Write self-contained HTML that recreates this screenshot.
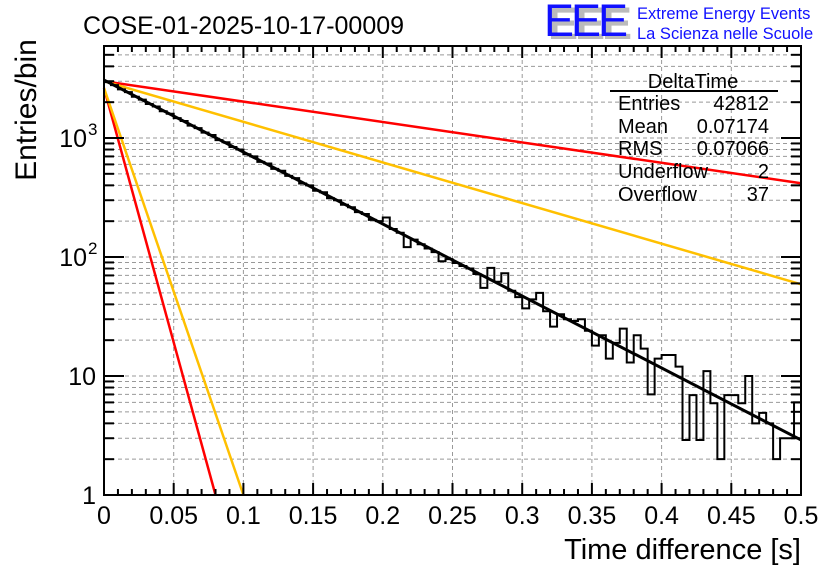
<!DOCTYPE html>
<html><head><meta charset="utf-8"><style>
body{margin:0;background:#fff;}
svg{display:block;font-family:"Liberation Sans",sans-serif;}
</style></head><body>
<svg id="chart" width="836" height="572" viewBox="0 0 836 572" xmlns="http://www.w3.org/2000/svg">
<rect x="0" y="0" width="836" height="572" fill="#fff"/>
<g id="grid"></g>
<g id="curves"></g>
<g id="hist"></g>
<g id="axes"></g>
<text x="83" y="34" font-size="25">COSE-01-2025-10-17-00009</text>
<g>
<text x="548" y="39" font-size="45" fill="#bbb" font-weight="bold" letter-spacing="-3">EEE</text>
<text x="544" y="36" font-size="45" fill="#1010ff" letter-spacing="-3">EEE</text>
<text x="637" y="19" font-size="16.5" fill="#1010ff">Extreme Energy Events</text>
<text x="637" y="39" font-size="16.5" fill="#1010ff">La Scienza nelle Scuole</text>
</g>
<g font-size="20">
<text x="693" y="88" text-anchor="middle">DeltaTime</text>
<line x1="610" y1="91" x2="778" y2="91" stroke="#000" stroke-width="2"/>
<text x="618" y="110">Entries</text><text x="769" y="110" text-anchor="end">42812</text>
<text x="618" y="133">Mean</text><text x="769" y="133" text-anchor="end">0.07174</text>
<text x="618" y="155">RMS</text><text x="769" y="155" text-anchor="end">0.07066</text>
<text x="618" y="178">Underflow</text><text x="769" y="178" text-anchor="end">2</text>
<text x="618" y="201">Overflow</text><text x="769" y="201" text-anchor="end">37</text>
</g>
<text transform="translate(36,110) rotate(-90)" text-anchor="middle" font-size="30">Entries/bin</text>
<text x="801" y="559" text-anchor="end" font-size="29">Time difference [s]</text>
</svg>
<script>
const counts=[2950,2780,2560,2430,2220,2100,1930,1840,1680,1600,1470,1390,1270,1210,1110,1060,960,920,840,800,730,700,630,610,550,530,480,460,415,400,360,350,312,300,275,262,238,230,205,200,215,172,160,121,140,128,118,110,92,96,89,84,80,72,55,81,62,73,52,46,37,44,50,35,26,33,30,29,30,24,18,22,14,19,25,13,22,17,7,14,15,15,12,2.9,6.9,2.9,11,5.9,2,6.9,6.9,5.9,10,4,4.9,4,2,3,3,6];
const xTicks=[0,0.05,0.1,0.15,0.2,0.25,0.3,0.35,0.4,0.45,0.5];
const xTickLabels=["0","0.05","0.1","0.15","0.2","0.25","0.3","0.35","0.4","0.45","0.5"];
const fitStart=[3070], fitEnd=[2.9];
const red1=[3000,417], yel1=[3000,59];
const red2=[2630,1,0.08], yel2=[2630,1,0.1];
const X0=104,X1=801,Y1=495,YT=46,DEC=119;
const sx=v=>X0+(v/0.5)*(X1-X0);
const sy=v=>Y1-Math.log10(v)*DEC;
const NS="http://www.w3.org/2000/svg";
function mk(p,tag,a){const e=document.createElementNS(NS,tag);for(const k in a)e.setAttribute(k,a[k]);p.appendChild(e);return e;}
const grid=document.getElementById('grid'),axes=document.getElementById('axes'),hist=document.getElementById('hist'),cv=document.getElementById('curves');
for(let i=1;i<xTicks.length-1;i++){const l=mk(grid,'line',{x1:sx(xTicks[i]),x2:sx(xTicks[i]),y1:YT,y2:Y1,stroke:'#999','stroke-dasharray':'4,3','stroke-width':1});
}
for(let d=0;d<4;d++)for(let m=1;m<=9;m++){const v=m*Math.pow(10,d);const y=sy(v);if(y<YT+1||y>Y1-1)continue;
const l=mk(grid,'line',{x1:X0,x2:X1,y1:y,y2:y,stroke:'#999','stroke-dasharray':'4,3','stroke-width':1});

const lenL=m===1?20:10;
const t1=mk(axes,'line',{x1:X0,x2:X0+lenL,y1:y,y2:y,stroke:'#000','stroke-width':2});

const t2=mk(axes,'line',{x1:X1,x2:X1-lenL,y1:y,y2:y,stroke:'#000','stroke-width':2});
}
for(let i=0;i<=50;i++){const x=sx(i*0.01);const len=(i%5===0)?12:6;
const t=mk(axes,'line',{x1:x,x2:x,y1:Y1,y2:Y1-len,stroke:'#000','stroke-width':2});

const t2=mk(axes,'line',{x1:x,x2:x,y1:YT,y2:YT+len,stroke:'#000','stroke-width':2});
}
xTicks.forEach((v,i)=>{const t=mk(axes,'text',{x:sx(v),y:524,'text-anchor':'middle','font-size':25});t.textContent=xTickLabels[i];
});
const yl=[[1,"1",null],[10,"10",null],[100,"10","2"],[1000,"10","3"]];
yl.forEach(([v,b,e])=>{const t=mk(axes,'text',{x:e?87:96,y:sy(v)+9,'text-anchor':'end','font-size':25});t.textContent=b;

if(e){const s=mk(axes,'text',{x:88,y:sy(v)-3,'font-size':17});s.textContent=e;}});
const fr=mk(axes,'rect',{x:X0,y:YT,width:X1-X0,height:Y1-YT,fill:'none',stroke:'#000','stroke-width':2});

function line(a,b,xe,col,name){const l=mk(cv,'line',{x1:sx(0),y1:sy(a),x2:sx(xe),y2:sy(b),stroke:col,'stroke-width':2.5});
}
line(red1[0],red1[1],0.5,'#ff0000','red-slow-curve');
line(yel1[0],yel1[1],0.5,'#ffc000','yellow-slow-curve');
line(red2[0],red2[1],red2[2],'#ff0000','red-fast-curve');
line(yel2[0],yel2[1],yel2[2],'#ffc000','yellow-fast-curve');
const w=0.5/counts.length;let d='';
counts.forEach((c,i)=>{const y=Math.min(Y1,sy(c));const xa=sx(i*w),xb=sx((i+1)*w);d+=(i===0?'M'+xa+','+y:'L'+xa+','+y)+'L'+xb+','+y;});
const hp=mk(hist,'path',{d:d,fill:'none',stroke:'#000','stroke-width':2});

const fl=mk(hist,'line',{x1:sx(0),y1:sy(fitStart[0]),x2:sx(0.5),y2:sy(fitEnd[0]),stroke:'#000','stroke-width':3});

</script>
</body></html>
